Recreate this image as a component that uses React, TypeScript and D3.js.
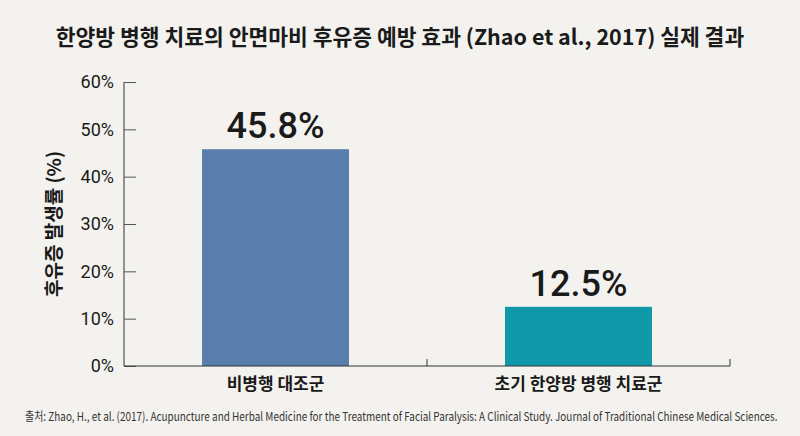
import { useEffect, useRef } from "react";
import * as d3 from "d3";

const categories = ["비병행 대조군", "초기 한양방 병행 치료군"];
const rates = [45.8, 12.5];
const barColors = ["#5a7eab", "#0f98a8"];
const yTicks = [0, 10, 20, 30, 40, 50, 60];

const TITLE = "한양방 병행 치료의 안면마비 후유증 예방 효과 (Zhao et al., 2017) 실제 결과";
const Y_LABEL = "후유증 발생률 (%)";
const SOURCE =
  "출처: Zhao, H., et al. (2017). Acupuncture and Herbal Medicine for the Treatment of Facial Paralysis: A Clinical Study. Journal of Traditional Chinese Medical Sciences.";

const BG = "#f3f2ee";
const INK = "#1a1a1a";
const KR = "'Noto Sans CJK KR', 'Noto Sans', sans-serif";
const NUM = "Roboto, 'Noto Sans', sans-serif";

export default function App() {
  const ref = useRef<SVGSVGElement>(null);

  useEffect(() => {
    document.body.style.margin = "0";
    document.body.style.background = BG;
    if (!ref.current) return;
    const svg = d3.select(ref.current);
    svg.selectAll("*").remove();

    const W = 800;
    const H = 436;
    const margin = { top: 82, right: 70, bottom: 70, left: 124 };
    const innerW = W - margin.left - margin.right;
    const innerH = H - margin.top - margin.bottom;

    svg.append("rect").attr("width", W).attr("height", H).attr("fill", BG);

    const g = svg
      .append("g")
      .attr("transform", `translate(${margin.left},${margin.top})`);

    const x = d3
      .scaleBand<string>()
      .domain(categories)
      .range([0, innerW])
      .paddingInner(0.515)
      .paddingOuter(0.2575);

    const y = d3.scaleLinear().domain([0, 60]).range([innerH, 0]);

    // bars
    g.selectAll("rect.bar")
      .data(rates)
      .join("rect")
      .attr("class", "bar")
      .attr("x", (_, i) => x(categories[i])!)
      .attr("y", (d) => y(d))
      .attr("width", x.bandwidth())
      .attr("height", (d) => innerH - y(d))
      .attr("fill", (_, i) => barColors[i]);

    // value labels
    g.selectAll("text.value")
      .data(rates)
      .join("text")
      .attr("class", "value")
      .attr("x", (_, i) => x(categories[i])! + x.bandwidth() / 2)
      .attr("y", (d) => y(d) - 11)
      .attr("text-anchor", "middle")
      .attr("font-family", NUM)
      .attr("font-weight", 500)
      .attr("font-size", 36)
      .attr("fill", INK)
      .text((d) => `${d}%`);

    // y axis
    const yAxis = g
      .append("g")
      .call(
        d3
          .axisRight(y)
          .tickValues(yTicks)
          .tickSize(12)
          .tickFormat((d) => `${d}%`)
      );
    yAxis.select(".domain").attr("stroke", "#333").attr("d", `M0,0V${innerH}`);
    yAxis.selectAll(".tick line").attr("stroke", "#555");
    yAxis
      .selectAll(".tick text")
      .attr("x", -10)
      .attr("text-anchor", "end")
      .attr("font-family", NUM)
      .attr("font-size", 18)
      .attr("fill", INK);

    // x axis with ticks at band boundaries
    g.append("line")
      .attr("x1", 0)
      .attr("x2", innerW)
      .attr("y1", innerH)
      .attr("y2", innerH)
      .attr("stroke", "#333");
    const step = x.step();
    const bounds = categories.map((c) => x(c)! + x.bandwidth() / 2 + step / 2);
    g.selectAll("line.xtick")
      .data(bounds)
      .join("line")
      .attr("class", "xtick")
      .attr("x1", (d) => d)
      .attr("x2", (d) => d)
      .attr("y1", innerH)
      .attr("y2", innerH - 7)
      .attr("stroke", "#333");

    g.selectAll("text.cat")
      .data(categories)
      .join("text")
      .attr("class", "cat")
      .attr("x", (d) => x(d)! + x.bandwidth() / 2)
      .attr("y", innerH + 19)
      .attr("dominant-baseline", "middle")
      .attr("text-anchor", "middle")
      .attr("font-family", KR)
      .attr("font-weight", 700)
      .attr("font-size", 17)
      .attr("fill", INK)
      .text((d) => d);

    // y label
    svg
      .append("text")
      .attr("transform", `translate(56,${margin.top + innerH / 2}) rotate(-90)`)
      .attr("text-anchor", "middle")
      .attr("dominant-baseline", "middle")
      .attr("font-family", KR)
      .attr("font-weight", 700)
      .attr("font-size", 19)
      .attr("fill", INK)
      .text(Y_LABEL);

    // title
    svg
      .append("text")
      .attr("x", 400)
      .attr("y", 39)
      .attr("text-anchor", "middle")
      .attr("dominant-baseline", "middle")
      .attr("font-family", KR)
      .attr("font-weight", 700)
      .attr("font-size", 21.5)
      .attr("fill", INK)
      .text(TITLE);

    // source — narrowed horizontally to fit the width the reference uses
    const source = svg
      .append("text")
      .attr("dominant-baseline", "middle")
      .attr("font-family", KR)
      .attr("font-size", 12)
      .attr("fill", "#333")
      .text(SOURCE);
    const natural = (source.node() as SVGTextElement).getComputedTextLength() || 905;
    const sx = Math.min(1, 753 / natural);
    source.attr("transform", `translate(25,418) scale(${sx},1)`);
  }, []);

  return <svg ref={ref} width={800} height={436} style={{ display: "block" }} />;
}
